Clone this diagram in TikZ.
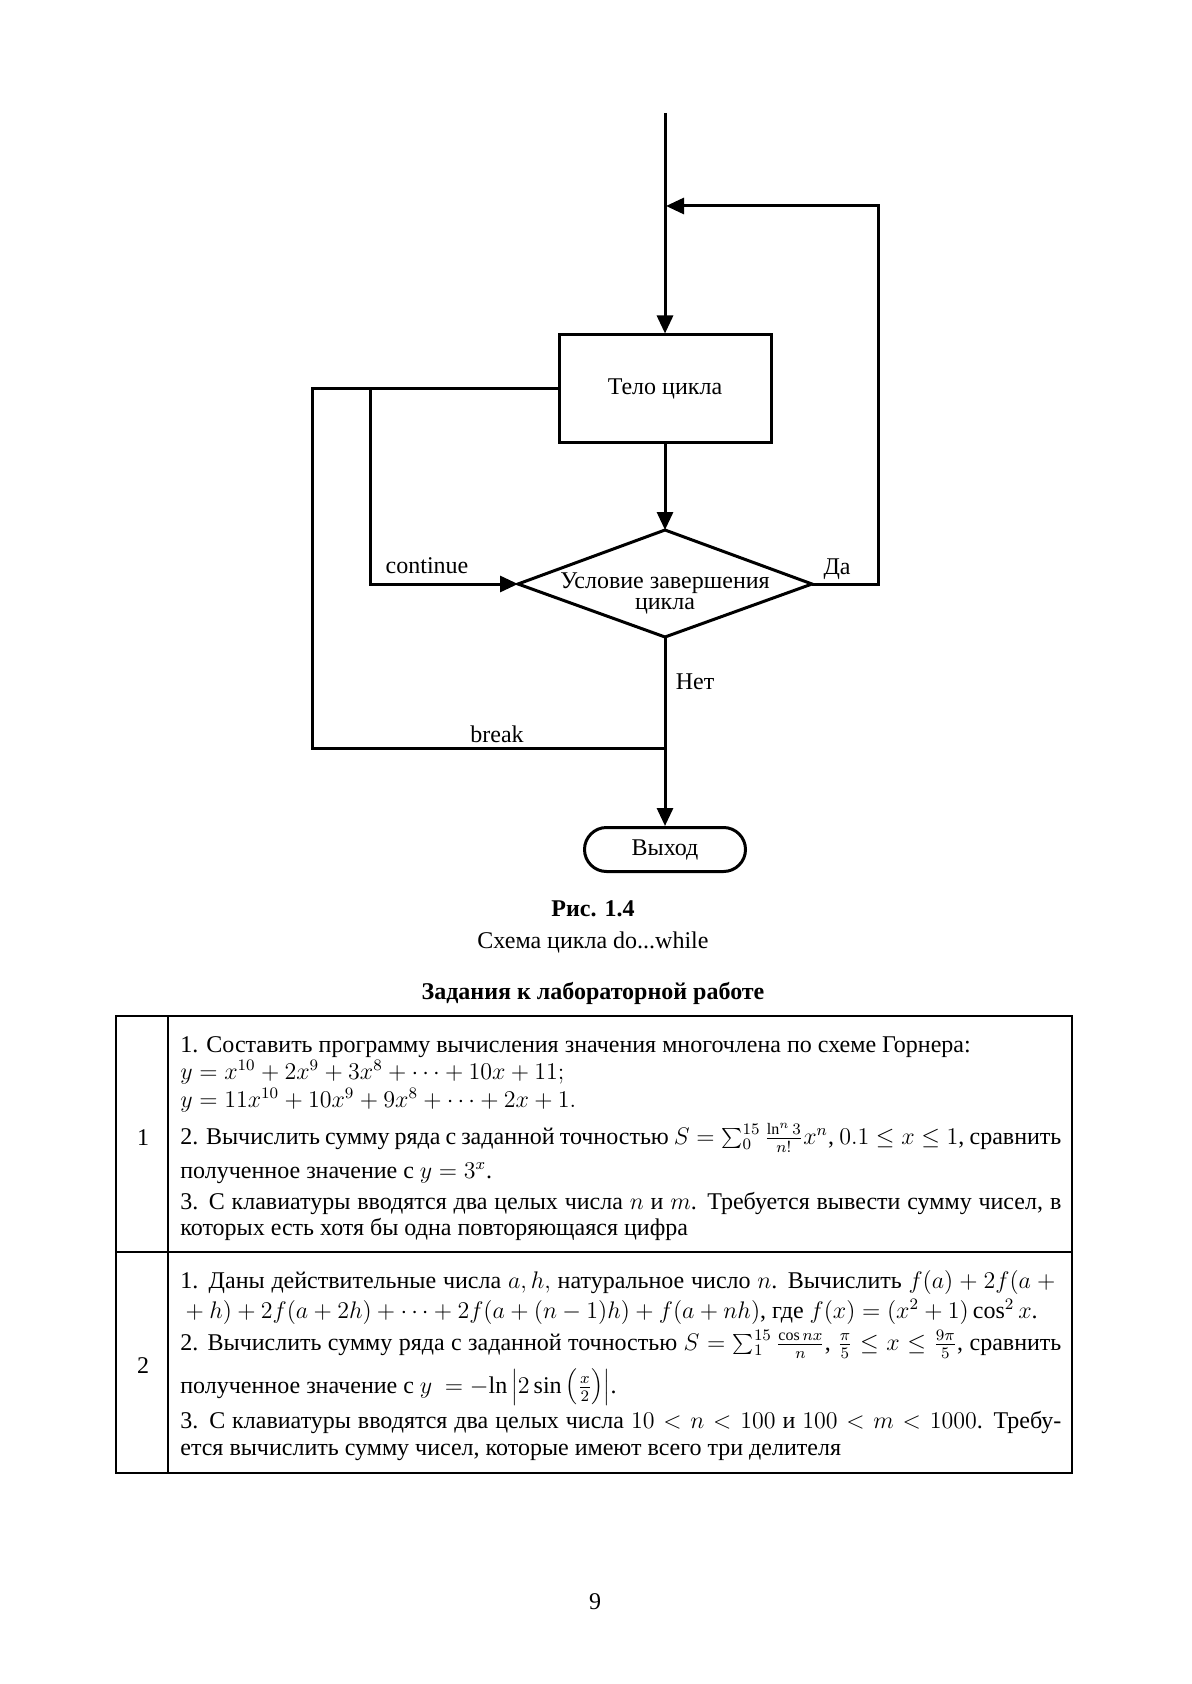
\documentclass[tikz,border=0pt]{standalone}
\usepackage{fontspec}
\setmainfont{Liberation Serif}
\usetikzlibrary{arrows.meta}
\newcommand\twelve{\fontsize{12}{14}\selectfont}
\newcommand\jl[1]{\hbox to 440.5pt{#1}}
\begin{document}
\begin{tikzpicture}[x=0.5pt,y=-0.5pt,
  flow/.style={line width=1.5pt},
  arr/.style={flow,-{Triangle[length=9pt,width=8pt]}},
  procbox/.style={draw,line width=1.5pt,minimum width=106pt,minimum height=54pt,inner sep=0pt,font=\twelve},
  termbox/.style={draw,line width=1.5pt,rounded corners=11pt,minimum width=80.5pt,minimum height=22pt,inner sep=0pt,font=\twelve},
  lbl/.style={inner sep=0pt,font=\twelve},
  ln/.style={anchor=base west,inner sep=0pt,font=\twelve},
  captxt/.style={inner sep=0pt,font=\twelve},
  tbl/.style={line width=0.7pt}]
\fill[white] (0,0) rectangle (1191,1684);
\useasboundingbox (0,0) rectangle (1191,1684);

% ---------- flowchart ----------
\coordinate (start) at (665,113);
\node[procbox] (body) at (665,389) {Тело цикла};
\coordinate (dT) at (665,530);
\coordinate (dB) at (665,637);
\coordinate (dL) at (518,584);
\coordinate (dR) at (812,584);
\draw[flow] (dT) -- (dR) -- (dB) -- (dL) -- cycle;
\node[lbl,align=center,font=\fontsize{12}{10.5}\selectfont] (cond) at (665,593) {Условие завершения\\цикла};
\node[termbox] (exit) at (665,849.5) {Выход};

\coordinate (rTop) at (878,206);
\coordinate (retTip) at (666,206);
\coordinate (oL) at (312,389);
\coordinate (jL) at (370,389);
\coordinate (brkJ) at (665,748);

\draw[arr] (start) -- (body.north);
\draw[arr] (body.south) -- (dT);
\draw[arr] (dR) -| (rTop) -- (retTip);
\draw[flow] (body.west) -- (oL) |- (brkJ);
\draw[arr] (jL) |- (dL);
\draw[arr] (dB) -- (exit.north);

\node[lbl] (lcont) at (427,566) {continue};
\node[lbl] (lyes) at (837,569) {Да};
\node[lbl] (lno) at (695,682) {Нет};
\node[lbl] (lbrk) at (497,734) {break};

% ---------- captions ----------
\node[captxt,font=\twelve\bfseries] (fig) at (593,909) {Рис. 1.4};
\node[captxt] (figname) at (593,942) {Схема цикла do...while};
\node[captxt,font=\twelve\bfseries] (title) at (593,993) {Задания к лабораторной работе};

% ---------- table ----------
\draw[tbl] (116,1016) rectangle (1072,1473);
\draw[tbl] (168,1016) -- (168,1473);
\draw[tbl] (116,1252) -- (1072,1252);
\node[captxt] (n1) at (143,1138) {1};
\node[captxt] (n2) at (143,1366) {2};

\node[ln] (a1) at (180,1052) {1. Составить программу вычисления значения многочлена по схеме Горнера:};
\node[ln] (a2) at (180,1079) {$y = x^{10} + 2x^9 + 3x^8 + \cdots + 10x + 11;$};
\node[ln] (a3) at (180,1107) {$y = 11x^{10} + 10x^9 + 9x^8 + \cdots + 2x + 1.$};
\node[ln] (a4) at (180,1144) {\jl{2. Вычислить сумму ряда с заданной точностью $S = \sum_0^{15}\frac{\ln^n 3}{n!}x^n$, $0.1 \le x \le 1$, сравнить}};
\node[ln] (a5) at (180,1178) {полученное значение с $y = 3^x$.};
\node[ln] (a6) at (180,1209) {\jl{3. С клавиатуры вводятся два целых числа $n$ и $m$. Требуется вывести сумму чисел, в}};
\node[ln] (a7) at (180,1235) {которых есть хотя бы одна повторяющаяся цифра};

\node[ln] (b1) at (180,1288) {\jl{1. Даны действительные числа $a, h,$ натуральное число $n$. Вычислить $f(a) + 2f(a +{}$}};
\node[ln] (b2) at (180,1318) {${}+ h) + 2f(a + 2h) + \cdots + 2f(a + (n - 1)h) + f(a + nh)$, где $f(x) = (x^2 + 1)\cos^2 x$.};
\node[ln] (b3) at (180,1350) {\jl{2. Вычислить сумму ряда с заданной точностью $S = \sum_1^{15}\frac{\cos nx}{n}$, $\frac{\pi}{5} \le x \le \frac{9\pi}{5}$, сравнить}};
\node[ln] (b4) at (180,1393) {полученное значение с $y\ = -\!\ln\left|2\sin\left(\frac{x}{2}\right)\right|$.};
\node[ln] (b5) at (180,1428) {\jl{3. С клавиатуры вводятся два целых числа $10 < n < 100$ и $100 < m < 1000$. Требу-}};
\node[ln] (b6) at (180,1455) {ется вычислить сумму чисел, которые имеют всего три делителя};

\node[captxt] (page) at (595,1602) {9};
\end{tikzpicture}
\end{document}
